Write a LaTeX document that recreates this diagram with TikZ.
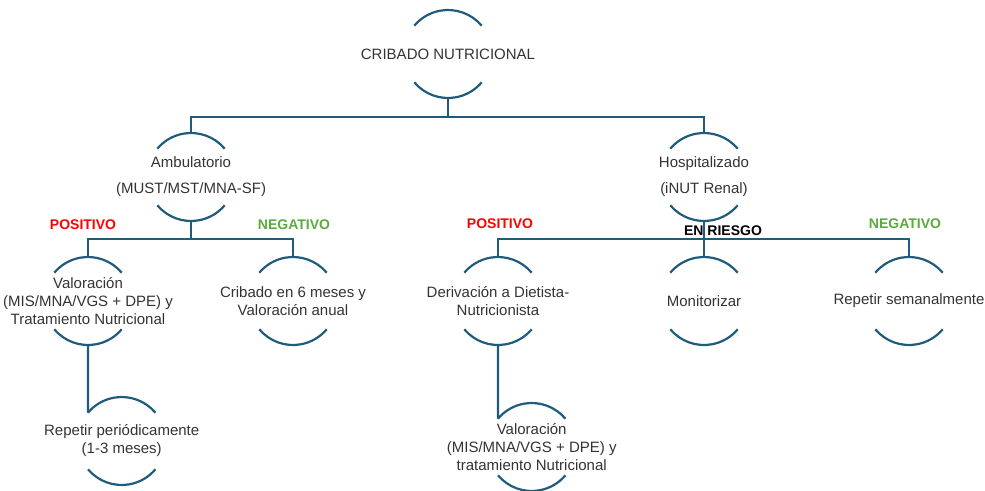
\documentclass[tikz,border=0pt]{standalone}
\usepackage{fontspec}
\setmainfont{Liberation Sans}
\definecolor{arcblue}{RGB}{31,91,122}
\definecolor{posred}{RGB}{255,0,0}
\definecolor{neggreen}{RGB}{90,170,60}
\tikzstyle{item} = [rectangle, minimum height = 88pt, inner sep = 0pt, align = center, text = black!80, font = \fontsize{15}{18}\selectfont]
\tikzstyle{ring} = [draw = arcblue, line width = 2.2pt]
\tikzstyle{link} = [draw = arcblue, line width = 2.2pt]
\tikzstyle{tag} = [inner sep = 1pt, font = \fontsize{14}{16}\selectfont\bfseries]

\begin{document}
\begin{tikzpicture}[x = 1pt, y = -1pt]
            \useasboundingbox (0, 0) rectangle (985, 490);
            \node (cribado) at (448, 54) [item] {CRIBADO NUTRICIONAL};
            \node (amb) at (191, 177) [item] {Ambulatorio\\[8pt](MUST/MST/MNA-SF)};
            \node (hosp) at (704, 177) [item] {Hospitalizado\\[8pt](iNUT Renal)};
            \node (valA) at (88, 301) [item] {Valoración\\(MIS/MNA/VGS + DPE) y\\Tratamiento Nutricional};
            \node (cribA) at (293, 301) [item] {Cribado en 6 meses y\\Valoración anual};
            \node (deriv) at (498, 301) [item] {Derivación a Dietista-\\Nutricionista};
            \node (monit) at (704, 301) [item] {Monitorizar};
            \node (repsem) at (909, 301) [item] {Repetir semanalmente};
            \node (rep) at (121.7, 441) [item] {Repetir periódicamente\\(1-3 meses)};
            \node (valB) at (531.7, 447) [item] {Valoración\\(MIS/MNA/VGS + DPE) y\\tratamiento Nutricional};
            % arcs above and below each entry
            \foreach \n in {cribado, amb, hosp, valA, cribA, deriv, monit, repsem, rep, valB}
                \draw [ring] ([shift = {(40:44pt)}]\n.center) arc (40:140:44pt)
                             ([shift = {(220:44pt)}]\n.center) arc (220:320:44pt);
            \draw [link] (cribado.south) -- ++(0, 19) -| (amb.north);
            \draw [link] (cribado.south) -- ++(0, 19) -| (hosp.north);
            \draw [link] (amb.south) -- ++(0, 18) -| (valA.north);
            \draw [link] (amb.south) -- ++(0, 18) -| (cribA.north);
            \draw [link] (hosp.south) -- ++(0, 18) -| (deriv.north);
            \draw [link] (hosp.south) -- (monit.north);
            \draw [link] (hosp.south) -- ++(0, 18) -| (repsem.north);
            \draw [link] (valA.south) -- ([shift = {(140:44pt)}]rep.center);
            \draw [link] (deriv.south) -- ([shift = {(140:44pt)}]valB.center);
            \node (posA) at (83, 225) [tag, text = posred] {POSITIVO};
            \node (negA) at (294, 225) [tag, text = neggreen] {NEGATIVO};
            \node (posB) at (500, 224) [tag, text = posred] {POSITIVO};
            \node (riesgo) at (723, 231) [tag, text = black] {EN RIESGO};
            \node (negB) at (905, 224) [tag, text = neggreen] {NEGATIVO};
        \end{tikzpicture}
\end{document}
